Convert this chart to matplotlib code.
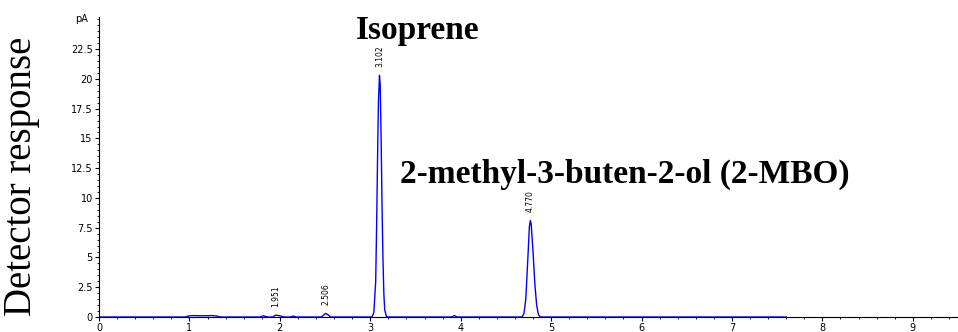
"""Chromatogram of the headspace sample: isoprene and 2-MBO peaks."""

from matplotlib import pyplot
from matplotlib.ticker import MultipleLocator

# Retention time (min) and detector signal (pA) of the FID trace.
time = [0.0, 0.95, 1.0, 1.05, 1.15, 1.25, 1.3, 1.35, 1.78, 1.82, 1.86,
        1.92, 1.951, 1.99, 2.05, 2.12, 2.15, 2.18, 2.46, 2.49, 2.506,
        2.53, 2.56, 3.02, 3.04, 3.06, 3.07, 3.08, 3.09, 3.102, 3.11, 3.12,
        3.13, 3.14, 3.15, 3.16, 3.18, 3.90, 3.93, 3.96, 4.0, 4.68, 4.70,
        4.72, 4.74, 4.76, 4.770, 4.78, 4.80, 4.82, 4.84, 4.86, 4.88, 7.6]
signal = [0.0, 0.0, 0.1, 0.12, 0.1, 0.12, 0.08, 0.0, 0.0, 0.1, 0.0,
          0.0, 0.15, 0.12, 0.0, 0.0, 0.08, 0.0, 0.0, 0.2, 0.3,
          0.2, 0.0, 0.0, 0.4, 3.0, 7.5, 13.0, 18.0, 20.3, 19.5, 15.0,
          9.5, 5.0, 2.0, 0.6, 0.0, 0.0, 0.12, 0.0, 0.0, 0.0, 0.3,
          1.5, 4.5, 7.6, 8.1, 7.8, 5.5, 2.8, 1.0, 0.2, 0.0, 0.0]

# Integrated peaks: retention time, apex height and printed label.
peak_times = [1.951, 2.506, 3.102, 4.770]
peak_heights = [0.15, 0.3, 20.3, 8.1]
peak_labels = ['1.951', '2.506', '3.102', '4.770']

fig = pyplot.figure(figsize=(9.58, 3.32), dpi=100)
ax = fig.add_axes([99 / 958, 15 / 332, 859 / 958, 300 / 332])

ax.plot(time, signal, color='#0000ff', linewidth=1.0)

# Rotated retention-time labels above each integrated peak.
for t, h, lab in zip(peak_times, peak_heights, peak_labels):
    ax.text(t, h + 0.7, lab, rotation=90, ha='center', va='bottom',
            fontsize=5.5, family='DejaVu Sans')

ax.set_xlim(0.0, 9.5)
ax.set_ylim(0.0, 25.2)
ax.xaxis.set_major_locator(MultipleLocator(1.0))
ax.xaxis.set_minor_locator(MultipleLocator(0.2))
ax.yaxis.set_minor_locator(MultipleLocator(0.5))
ax.set_yticks([0, 2.5, 5, 7.5, 10, 12.5, 15, 17.5, 20, 22.5])
ax.set_yticklabels(['0', '2.5', '5', '7.5', '10', '12.5', '15', '17.5',
                    '20', '22.5'])
for side in ('top', 'right'):
    ax.spines[side].set_visible(False)
ax.spines['left'].set_linewidth(0.8)
ax.spines['bottom'].set_linewidth(0.8)
ax.tick_params(axis='both', which='major', length=3, width=0.8,
               labelsize=7, pad=1.5)
ax.tick_params(axis='both', which='minor', length=1.5, width=0.6)
ax.text(-0.12, 25.0, 'pA', ha='right', va='center', fontsize=7)

# Compound names and axis title in a serif face.
serif = ['Liberation Serif', 'DejaVu Serif']
ax.text(3.52, 24.1, 'Isoprene', ha='center', va='center', fontsize=24,
        fontweight='bold', family=serif)
ax.text(5.81, 12.0, '2-methyl-3-buten-2-ol (2-MBO)', ha='center',
        va='center', fontsize=24, fontweight='bold', family=serif)
fig.text(22 / 958, 0.47, 'Detector response', rotation=90, ha='center',
         va='center', fontsize=28, family=serif)

fig.savefig('out.png', dpi=100)
